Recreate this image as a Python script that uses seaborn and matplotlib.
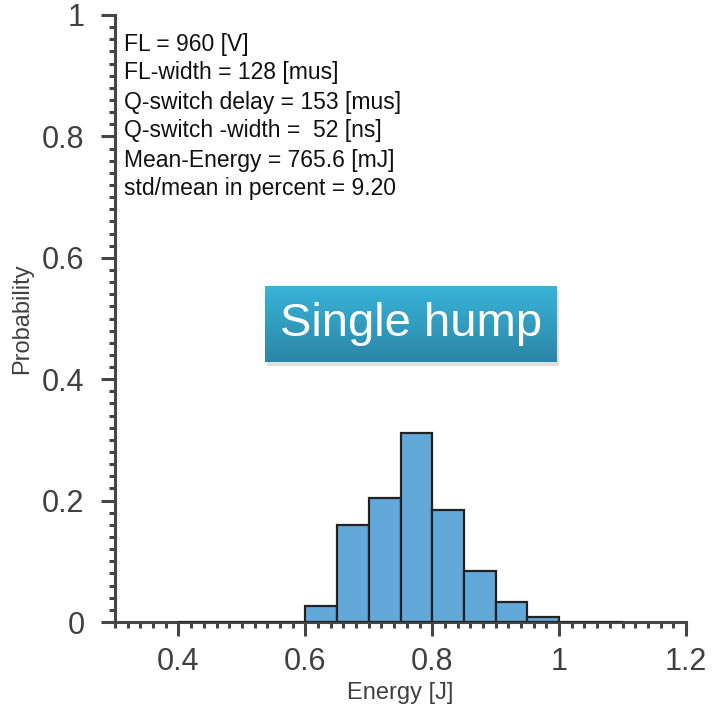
import numpy as np
import pandas as pd
import matplotlib
matplotlib.use("Agg")
import matplotlib.pyplot as plt
from matplotlib.ticker import MultipleLocator, FuncFormatter
from matplotlib.patches import Rectangle
import seaborn as sns

# ---- data ----
bin_edges = [0.40, 0.45, 0.50, 0.55, 0.60, 0.65, 0.70, 0.75, 0.80, 0.85, 0.90, 0.95, 1.00, 1.05, 1.10]
probabilities = [0.0, 0.0, 0.0, 0.0, 0.027, 0.160, 0.204, 0.312, 0.185, 0.084, 0.033, 0.008, 0.0, 0.0]
bin_centers = [(a + b) / 2 for a, b in zip(bin_edges[:-1], bin_edges[1:])]
x_ticks = [0.4, 0.6, 0.8, 1.0, 1.2]
y_ticks = [0, 0.2, 0.4, 0.6, 0.8, 1.0]
info_lines = [
    "FL = 960 [V]",
    "FL-width = 128 [mus]",
    "Q-switch delay = 153 [mus]",
    "Q-switch -width =  52 [ns]",
    "Mean-Energy = 765.6 [mJ]",
    "std/mean in percent = 9.20",
]
badge_text = "Single hump"

sns.set_style("white")
plt.rcParams['font.family'] = ['Liberation Sans', 'DejaVu Sans']

W, H = 712, 711
fig = plt.figure(figsize=(W / 100, H / 100), dpi=100)
ax = fig.add_axes([115 / W, 1 - 622 / H, (686 - 115) / W, (622 - 15) / H])

df = pd.DataFrame({"energy": bin_centers, "prob": probabilities})
sns.histplot(data=df, x="energy", weights="prob", bins=bin_edges, stat="count",
             color="#62a8d8", alpha=1.0, edgecolor="#222222", linewidth=1.6, ax=ax,
             zorder=3)

ax.set_xlim(0.3, 1.2)
ax.set_ylim(0, 1)
ax.set_xticks(x_ticks)
ax.set_yticks(y_ticks)
fmt = FuncFormatter(lambda v, p: f"{v:g}")
ax.xaxis.set_major_formatter(fmt)
ax.yaxis.set_major_formatter(fmt)
ax.xaxis.set_minor_locator(MultipleLocator(0.02))
ax.yaxis.set_minor_locator(MultipleLocator(0.02))

spine_col = "#454545"
for s in ["top", "right"]:
    ax.spines[s].set_visible(False)
for s in ["left", "bottom"]:
    ax.spines[s].set_color(spine_col)
    ax.spines[s].set_linewidth(2.2)
    ax.spines[s].set_zorder(2)

ax.tick_params(which="major", direction="out", length=10, width=2.2, color=spine_col,
               labelsize=22, labelcolor="#404040")
ax.tick_params(which="minor", direction="out", length=4.5, width=2.2, color=spine_col)
ax.tick_params(axis="x", which="major", pad=8)
ax.tick_params(axis="y", which="major", pad=12)
ax.tick_params(axis="x", which="both", bottom=True)
ax.tick_params(axis="y", which="both", left=True)

ax.set_xlabel("Energy [J]", fontsize=17, color="#404040")
ax.set_ylabel("Probability", fontsize=17, color="#404040")
ax.xaxis.set_label_coords(0.5, (1 - 693 / H - (1 - 622 / H)) / ((622 - 15) / H))
ax.yaxis.set_label_coords((22 - 115) / (686 - 115), 0.5)
ax.xaxis.label.set_va("center")
ax.yaxis.label.set_va("center")

for i, line in enumerate(info_lines):
    fig.text(124 / W, 1 - (44 + 29 * i) / H, line, fontsize=16.5, color="#111111",
             ha="left", va="center")

# badge with gradient
bl, bb, bw, bh = 265 / W, 1 - 362 / H, 292 / W, 76 / H
shadow = Rectangle((bl + 2 / W, bb - 4 / H), bw, bh, transform=fig.transFigure,
                   facecolor="#999999", alpha=0.3, edgecolor="none", zorder=5)
fig.patches.append(shadow)
bax = fig.add_axes([bl, bb, bw, bh], zorder=10)
top = np.array([0x38, 0xb4, 0xd8]) / 255
bot = np.array([0x2c, 0x85, 0xa6]) / 255
t = np.linspace(0, 1, 100)[:, None]
grad = top[None, None, :] * (1 - t[:, :, None]) + bot[None, None, :] * t[:, :, None]
grad = np.repeat(grad, 2, axis=1)
bax.imshow(grad, aspect="auto", extent=[0, 1, 0, 1])
bax.set_axis_off()
bax.text(0.5, 0.5, badge_text, fontsize=34, color="white", ha="center", va="center",
         transform=bax.transAxes)

fig.savefig("out.png", dpi=100)
